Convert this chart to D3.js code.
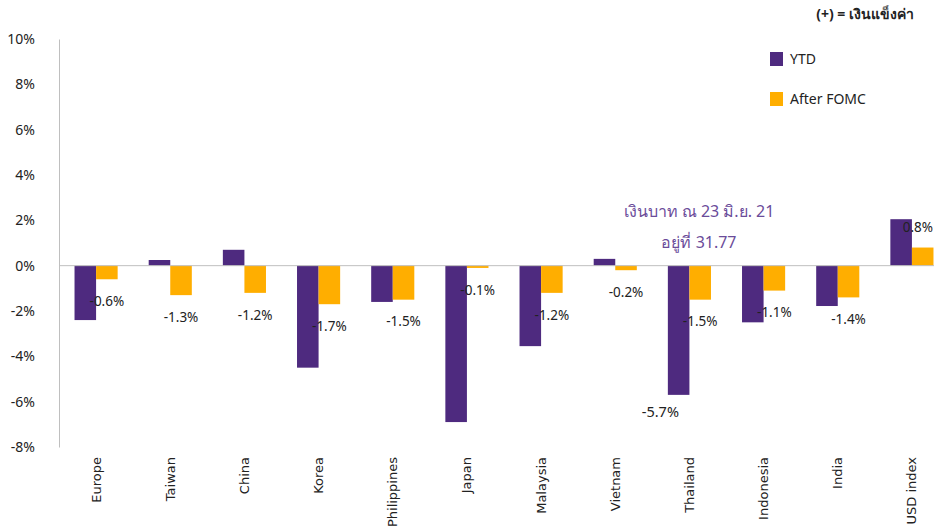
<!DOCTYPE html>
<html>
<head>
<meta charset="utf-8">
<script src="https://cdn.jsdelivr.net/npm/d3@7"></script>
<style>
  body { margin: 0; background: #fff; }
  svg { display: block; font-family: "Noto Sans", "Open Sans", sans-serif; }
</style>
</head>
<body>
<div id="fx-chart"></div>
<script>
const categories = ["Europe", "Taiwan", "China", "Korea", "Philippines", "Japan", "Malaysia", "Vietnam", "Thailand", "Indonesia", "India", "USD index"];
const ytd = [-2.4, 0.25, 0.7, -4.5, -1.6, -6.9, -3.55, 0.3, -5.7, -2.5, -1.78, 2.05];
const afterFomc = [-0.6, -1.3, -1.2, -1.7, -1.5, -0.1, -1.2, -0.2, -1.5, -1.1, -1.4, 0.8];
const yTicks = [-8, -6, -4, -2, 0, 2, 4, 6, 8, 10];
const seriesNames = ["YTD", "After FOMC"];

const id = 'fx-chart'
const width = 934, height = 529;
const colors = { "YTD": "#4e2a7f", "After FOMC": "#ffae00" };

const svg = d3.select(`#${id}`)
    .append('svg')
    .attr('width', width)
    .attr('height', height);

/* scales */
const x0 = d3.scaleBand()
    .domain(categories)
    .range([59, 949]);

const x1 = d3.scaleBand()
    .domain(seriesNames)
    .range([0, x0.bandwidth()])
    .paddingOuter(0.72);

const y = d3.scaleLinear()
    .domain([-8, 10])
    .range([447, 39]);

/* y axis */
const yAxis = svg.append('g')
    .attr('transform', 'translate(59,0)')
    .call(d3.axisLeft(y).tickValues(yTicks).tickFormat(d => d + '%').tickSize(0).tickPadding(24));
yAxis.select('.domain').attr('stroke', '#bfbfbf');
yAxis.selectAll('text')
    .attr('font-size', 14)
    .attr('fill', '#222')
    .style('font-family', '"Noto Sans", sans-serif');

/* category labels */
const xAxis = svg.append('g')
    .attr('transform', 'translate(0,457)')
    .call(d3.axisBottom(x0).tickSize(0).tickPadding(0));
xAxis.select('.domain').remove();
xAxis.selectAll('text')
    .attr('transform', 'rotate(-90)')
    .attr('text-anchor', 'end')
    .attr('x', 0)
    .attr('y', 0)
    .attr('dx', 0)
    .attr('dy', '0.35em')
    .attr('font-size', 13)
    .attr('fill', '#222')
    .style('font-family', '"DejaVu Sans", sans-serif');

/* bars */
const rows = categories.map((c, i) => ({ cat: c, values: [
    { name: "YTD", value: ytd[i] },
    { name: "After FOMC", value: afterFomc[i] }
] }));

const groups = svg.selectAll('.group')
    .data(rows)
    .enter()
    .append('g')
    .attr('transform', d => `translate(${x0(d.cat)},0)`);

groups.selectAll('rect')
    .data(d => d.values)
    .enter()
    .append('rect')
    .attr('x', d => x1(d.name))
    .attr('y', d => y(Math.max(0, d.value)))
    .attr('width', x1.bandwidth())
    .attr('height', d => Math.abs(y(d.value) - y(0)))
    .attr('fill', d => colors[d.name]);

/* zero line */
svg.append('line')
    .attr('x1', 59)
    .attr('x2', 934)
    .attr('y1', y(0))
    .attr('y2', y(0))
    .attr('stroke', '#bfbfbf')
    .attr('stroke-width', 1);

/* After FOMC labels */
groups.append('text')
    .text(d => `${d.values[1].value.toFixed(1)}%`)
    .attr('x', x1("After FOMC") + x1.bandwidth() / 2)
    .attr('y', d => d.values[1].value < 0 ? y(d.values[1].value) + 22 : y(d.values[1].value) - 20)
    .attr('dy', '0.35em')
    .attr('text-anchor', 'middle')
    .attr('font-size', 13.5)
    .attr('fill', '#222')
    .each(function (d) {
        // keep the last label inside the picture
        const gx = x0(d.cat);
        const box = this.getBBox();
        const right = gx + box.x + box.width;
        if (right > 933) d3.select(this).attr('x', +d3.select(this).attr('x') - (right - 933));
    });

/* Thailand YTD label */
const thIdx = categories.indexOf("Thailand");
svg.append('text')
    .text(`${ytd[thIdx].toFixed(1)}%`)
    .attr('x', x0("Thailand") + x1("YTD") - 7.5)
    .attr('y', y(ytd[thIdx]) + 17)
    .attr('dy', '0.35em')
    .attr('text-anchor', 'middle')
    .attr('font-size', 14.5)
    .attr('fill', '#222');

/* annotation */
const note = svg.append('text')
    .attr('text-anchor', 'middle')
    .attr('font-size', 16)
    .attr('fill', '#6b4c9a');
note.append('tspan').attr('x', 699).attr('y', 217).text('เงินบาท ณ 23 มิ.ย. 21');
note.append('tspan').attr('x', 699).attr('y', 248).text('อยู่ที่ 31.77');

svg.append('text')
    .attr('x', 914)
    .attr('y', 19)
    .attr('text-anchor', 'end')
    .attr('font-size', 14)
    .attr('font-weight', 'bold')
    .attr('fill', '#222')
    .text('(+) = เงินแข็งค่า');

/* legend */
const legend = svg.selectAll('.legend')
    .data(seriesNames)
    .enter()
    .append('g')
    .attr('transform', (d, i) => `translate(770,${52 + i * 40})`);

legend.append('rect')
    .attr('width', 13)
    .attr('height', 14)
    .attr('fill', d => colors[d]);

legend.append('text')
    .attr('x', 20)
    .attr('y', 7)
    .attr('dy', '0.35em')
    .attr('font-size', 14)
    .attr('fill', '#222')
    .text(d => d);
</script>
</body>
</html>
